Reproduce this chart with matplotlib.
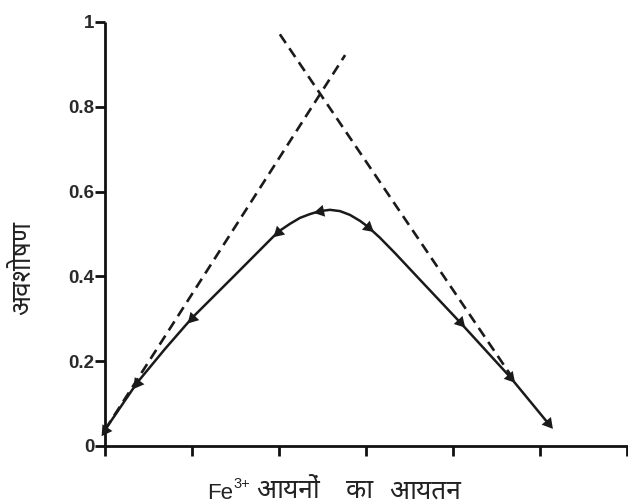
import matplotlib
matplotlib.use("Agg")
import matplotlib.pyplot as plt
import numpy as np
from matplotlib import font_manager

# ---------------- data ----------------
curve_x = [0.0, 0.368, 0.690, 1.000, 1.494, 1.989, 2.126, 2.241, 2.356, 2.471,
           2.586, 2.701, 2.816, 2.931, 3.023, 3.161, 3.333, 3.621, 4.080, 4.655, 5.092]
curve_y = [0.038, 0.149, 0.229, 0.302, 0.403, 0.505, 0.524, 0.538, 0.547, 0.554,
           0.557, 0.554, 0.545, 0.531, 0.517, 0.491, 0.455, 0.392, 0.292, 0.163, 0.054]
marker_idx = [0, 1, 3, 5, 9, 14, 18, 19, 20]
peak_x = 2.52

dash1_x = [0.0, 2.76]
dash1_y = [0.038, 0.922]
dash2_x = [2.01, 4.68]
dash2_y = [0.971, 0.162]

yticks = [0, 0.2, 0.4, 0.6, 0.8, 1.0]
ytick_labels = ["0", "0.2", "0.4", "0.6", "0.8", "1"]
xticks = [0, 1, 2, 3, 4, 5, 6]

ylabel = "अवशोषण"
xlabel_ion = "Fe"
xlabel_sup = "3+"
xlabel_words = ["आयनों", "का", "आयतन"]

# ---------------- fonts ----------------
names = {f.name for f in font_manager.fontManager.ttflist}
deva = None
for cand in ["Noto Sans Devanagari", "Noto Sans Devanagari UI", "Mukta", "Hind",
             "Sarala", "Palanquin", "Poppins"]:
    if cand in names:
        deva = cand
        break
latin = "Liberation Sans" if "Liberation Sans" in names else "DejaVu Sans"
deva_family = [deva, latin, "DejaVu Sans"] if deva else [latin, "DejaVu Sans"]

plt.rcParams["font.family"] = [latin, "DejaVu Sans"]

# ---------------- figure ----------------
W, H = 628, 504
fig = plt.figure(figsize=(W / 100, H / 100), dpi=100)
ax = fig.add_axes([105 / W, (H - 446) / H, (W - 105) / W, 424 / H])
ax.set_xlim(0, (W - 105) / 87)
ax.set_ylim(0, 1.0)

for s in ["top", "right"]:
    ax.spines[s].set_visible(False)
for s in ["left", "bottom"]:
    ax.spines[s].set_linewidth(2.0)
    ax.spines[s].set_color("#111111")
    ax.spines[s].set_capstyle("butt")

ax.set_xticks(xticks)
ax.set_xticklabels([])
ax.set_yticks(yticks)
ax.set_yticklabels(ytick_labels, fontsize=13.5, fontweight="bold", color="#2a2a2a")
ax.tick_params(axis="both", direction="out", length=7, width=2.0, color="#111111", pad=0.5)
ax.patch.set_alpha(0)

# dashed lines
ax.plot(dash1_x, dash1_y, color="#1a1a1a", lw=1.9, dashes=(4.0, 2.4), zorder=2)
ax.plot(dash2_x, dash2_y, color="#1a1a1a", lw=1.9, dashes=(4.0, 2.4), zorder=2)

# solid curve
ax.plot(curve_x, curve_y, color="#1a1a1a", lw=1.8, zorder=3, solid_capstyle="round",
        solid_joinstyle="round")

# arrow markers oriented along curve
fig.canvas.draw()
disp = ax.transData.transform(np.column_stack([curve_x, curve_y]))
n = len(curve_x)
for i in marker_idx:
    a = max(i - 1, 0)
    b = min(i + 1, n - 1)
    dx, dy = disp[b] - disp[a]
    ang = np.degrees(np.arctan2(dy, dx))
    if curve_x[i] < peak_x:
        ang += 180  # point toward decreasing x
    ax.plot(curve_x[i], curve_y[i], linestyle="none",
            marker=(3, 0, ang - 90), markersize=10, color="#1a1a1a",
            markeredgewidth=0, zorder=4, clip_on=False)

# labels
fig.text(23 / W, 1 - 268 / H, ylabel, rotation=90, ha="center", va="center",
         fontsize=19, family=deva_family, color="#222222")

fig.text(207 / W, 1 - 499 / H, xlabel_ion, ha="left", va="baseline",
         fontsize=16, family=[latin, "DejaVu Sans"], color="#222222")
fig.text(233 / W, 1 - 488 / H, xlabel_sup, ha="left", va="baseline",
         fontsize=10.5, family=[latin, "DejaVu Sans"], color="#222222")
word_left = [256, 346, 389]
for w, xl in zip(xlabel_words, word_left):
    fig.text(xl / W, 1 - 498.5 / H, w, ha="left", va="baseline",
             fontsize=19, family=deva_family, color="#222222")

fig.savefig("out.png", dpi=100)
